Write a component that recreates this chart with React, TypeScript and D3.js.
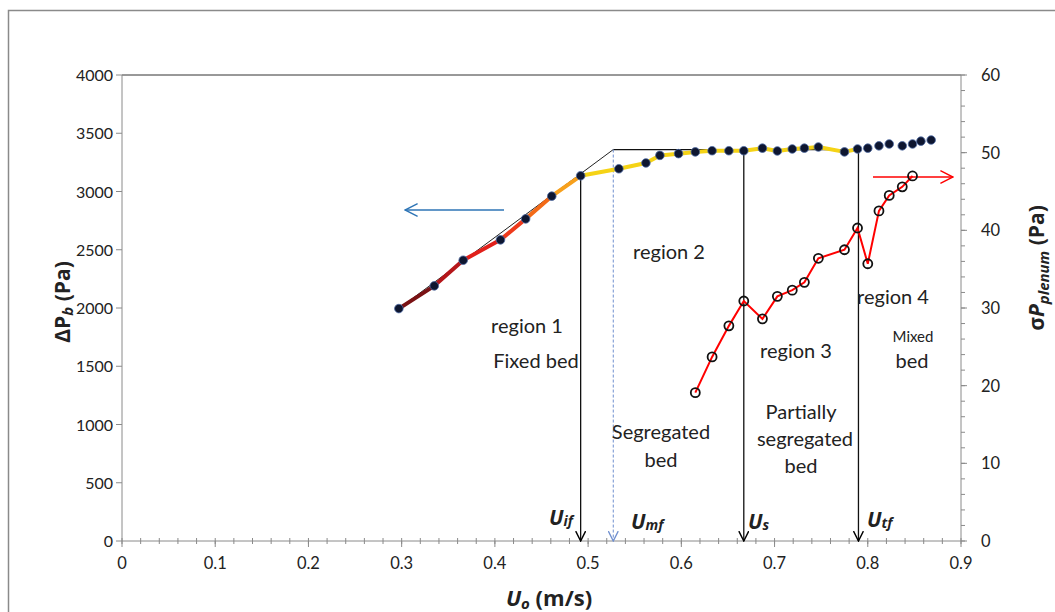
import React from "react";
import * as d3 from "d3";

const uo = [0.297, 0.335, 0.366, 0.406, 0.433, 0.461, 0.492, 0.533, 0.562, 0.577, 0.597, 0.615, 0.633, 0.651, 0.667, 0.687, 0.703, 0.719, 0.732, 0.747, 0.775, 0.789, 0.8, 0.812, 0.823, 0.837, 0.848, 0.857, 0.868];
const dpb = [1995, 2190, 2410, 2585, 2765, 2960, 3135, 3195, 3245, 3310, 3325, 3340, 3350, 3350, 3350, 3372, 3348, 3365, 3372, 3382, 3340, 3365, 3372, 3392, 3408, 3392, 3408, 3432, 3442];
const sigmaU = [0.615, 0.633, 0.651, 0.667, 0.687, 0.703, 0.719, 0.732, 0.747, 0.775, 0.789, 0.8, 0.812, 0.823, 0.837, 0.848];
const sigmaP = [19.1, 23.7, 27.7, 30.9, 28.6, 31.5, 32.3, 33.3, 36.4, 37.5, 40.3, 35.7, 42.5, 44.5, 45.6, 47.0];
const segColors = ["#7a1214", "#b5161a", "#e1201b", "#ee3a1c", "#f36a17", "#f7a01c"];
const xTicks = [0, 0.1, 0.2, 0.3, 0.4, 0.5, 0.6, 0.7, 0.8, 0.9];
const yLTicks = [0, 500, 1000, 1500, 2000, 2500, 3000, 3500, 4000];
const yRTicks = [0, 10, 20, 30, 40, 50, 60];
const Uif = 0.492, Umf = 0.527, Us = 0.667, Utf = 0.79, plateau = 3360;

const FONT = "Lato, 'Open Sans', sans-serif";
const TFONT = "'Open Sans', 'DejaVu Sans', sans-serif";

export default function App() {
  const x = d3.scaleLinear().domain([0, 0.9]).range([122, 961]);
  const yL = d3.scaleLinear().domain([0, 4000]).range([541, 75]);
  const yR = d3.scaleLinear().domain([0, 60]).range([541, 75]);
  const pts = uo.map((u, i) => [x(u), yL(dpb[i])] as [number, number]);
  const lastYellow = uo.findIndex((u) => Math.abs(u - Utf) < 0.002);
  const yellowPath = d3.line()(pts.slice(6, lastYellow + 1));
  const redPts = sigmaU.map((u, i) => [x(u), yR(sigmaP[i])] as [number, number]);
  const redPath = d3.line()(redPts);
  const minorX = d3.range(0, 0.9001, 0.02);
  const minorR = d3.range(0, 60.001, 2);
  return (
    <svg width={1055} height={612} style={{ position: "absolute", left: 0, top: 0, background: "#fff" }} fontFamily={FONT}>
      <defs>
        <marker id="ab" viewBox="0 0 10 10" refX={9.5} refY={5} markerWidth={11} markerHeight={11} markerUnits="userSpaceOnUse" orient="auto">
          <path d="M0.5,0.5 L9.5,5 L0.5,9.5" fill="none" stroke="#000" strokeWidth={1.3} />
        </marker>
        <marker id="abl" viewBox="0 0 10 10" refX={9.5} refY={5} markerWidth={14} markerHeight={14} markerUnits="userSpaceOnUse" orient="auto">
          <path d="M0.5,0.5 L9.5,5 L0.5,9.5" fill="none" stroke="#2e75b6" strokeWidth={1} />
        </marker>
        <marker id="ar" viewBox="0 0 10 10" refX={9.5} refY={5} markerWidth={14} markerHeight={14} markerUnits="userSpaceOnUse" orient="auto">
          <path d="M0.5,0.5 L9.5,5 L0.5,9.5" fill="none" stroke="#ff0000" strokeWidth={1} />
        </marker>
        <marker id="abd" viewBox="0 0 10 10" refX={9.5} refY={5} markerWidth={11} markerHeight={11} markerUnits="userSpaceOnUse" orient="auto">
          <path d="M0.5,0.5 L9.5,5 L0.5,9.5" fill="none" stroke="#6f8fcf" strokeWidth={1.2} />
        </marker>
      </defs>
      <rect x={8.5} y={10.5} width={1060} height={620} fill="none" stroke="#8a8a8a" strokeWidth={1.5} />

      {/* axes */}
      <line x1={x(0)} x2={x(0.9)} y1={yL(4000)} y2={yL(4000)} stroke="#333" strokeWidth={1} />
      <line x1={x(0)} x2={x(0)} y1={yL(0)} y2={yL(4000)} stroke="#8a8a8a" strokeWidth={1} />
      <line x1={x(0.9)} x2={x(0.9)} y1={yL(0)} y2={yL(4000)} stroke="#8a8a8a" strokeWidth={1} />
      <line x1={x(0)} x2={x(0.9)} y1={yL(0)} y2={yL(0)} stroke="#8a8a8a" strokeWidth={1} />
      {minorX.map((t, i) => (
        <line key={"mx" + i} x1={x(t)} x2={x(t)} y1={yL(0) - 3} y2={yL(0) + 3} stroke="#8a8a8a" strokeWidth={1} />
      ))}
      {xTicks.map((t) => (
        <g key={"xt" + t}>
          <line x1={x(t)} x2={x(t)} y1={yL(0)} y2={yL(0) + 6} stroke="#8a8a8a" strokeWidth={1} />
          <text x={x(t)} y={yL(0) + 28} textAnchor="middle" fontSize={16.5} fill="#222">{t === 0 ? "0" : d3.format(".1f")(t)}</text>
        </g>
      ))}
      {yLTicks.map((t) => (
        <g key={"yl" + t}>
          <line x1={x(0) - 6} x2={x(0)} y1={yL(t)} y2={yL(t)} stroke="#8a8a8a" strokeWidth={1} />
          <text x={x(0) - 9} y={yL(t) + 6} textAnchor="end" fontSize={16} fill="#222">{t}</text>
        </g>
      ))}
      {minorR.map((t, i) => (
        <line key={"mr" + i} x1={x(0.9)} x2={x(0.9) + 4} y1={yR(t)} y2={yR(t)} stroke="#8a8a8a" strokeWidth={1} />
      ))}
      {yRTicks.map((t) => (
        <g key={"yr" + t}>
          <line x1={x(0.9)} x2={x(0.9) + 6} y1={yR(t)} y2={yR(t)} stroke="#8a8a8a" strokeWidth={1} />
          <text x={x(0.9) + 20} y={yR(t) + 6} textAnchor="start" fontSize={16.5} fill="#222">{t}</text>
        </g>
      ))}

      {/* axis titles */}
      <text transform={`translate(70,302) rotate(-90)`} textAnchor="middle" fontSize={21} fontWeight="bold" fill="#222" fontFamily={TFONT}>
        <tspan>ΔP</tspan><tspan fontSize={15} fontStyle="italic" dy={3}>b</tspan><tspan dy={-3}> (Pa)</tspan>
      </text>
      <text transform={`translate(1044,268) rotate(-90)`} textAnchor="middle" fontSize={21} fontWeight="bold" fill="#222" fontFamily={TFONT}>
        <tspan>σ</tspan><tspan fontStyle="italic">P</tspan><tspan fontSize={15} fontStyle="italic" dy={5}>plenum</tspan><tspan dy={-5}> (Pa)</tspan>
      </text>
      <text x={549} y={606} textAnchor="middle" fontSize={22} fontWeight="bold" fill="#222" fontFamily={TFONT}>
        <tspan fontStyle="italic">U</tspan><tspan fontSize={15} fontStyle="italic" dy={3}>o</tspan><tspan dy={-3}> (m/s)</tspan>
      </text>

      {/* fit lines and arrows */}
      <line x1={pts[0][0]} y1={pts[0][1]} x2={x(Umf)} y2={yL(plateau)} stroke="#222" strokeWidth={1} />
      <line x1={x(Umf)} y1={yL(plateau)} x2={x(Utf)} y2={yL(plateau)} stroke="#111" strokeWidth={1.3} />
      <line x1={x(Uif)} y1={yL(3135)} x2={x(Uif)} y2={yL(0)} stroke="#111" strokeWidth={1.3} markerEnd="url(#ab)" />
      <line x1={x(Us)} y1={yL(plateau)} x2={x(Us)} y2={yL(0)} stroke="#111" strokeWidth={1.3} markerEnd="url(#ab)" />
      <line x1={x(Utf)} y1={yL(plateau)} x2={x(Utf)} y2={yL(0)} stroke="#111" strokeWidth={1.3} markerEnd="url(#ab)" />
      <line x1={x(Umf)} y1={yL(plateau)} x2={x(Umf)} y2={yL(0)} stroke="#6f8fcf" strokeWidth={1} strokeDasharray="3,2" markerEnd="url(#abd)" />
      <line x1={504} y1={210} x2={405} y2={210} stroke="#2e75b6" strokeWidth={1.5} markerEnd="url(#abl)" />
      <line x1={873} y1={177} x2={953} y2={177} stroke="#ff0000" strokeWidth={1.5} markerEnd="url(#ar)" />

      {/* ΔPb series */}
      {segColors.map((c, i) => (
        <line key={"sg" + i} x1={pts[i][0]} y1={pts[i][1]} x2={pts[i + 1][0]} y2={pts[i + 1][1]} stroke={c} strokeWidth={4} strokeLinecap="round" />
      ))}
      <path d={yellowPath || ""} fill="none" stroke="#f5d316" strokeWidth={4} strokeLinejoin="round" strokeLinecap="round" />
      {pts.map((p, i) => (
        <circle key={"p" + i} cx={p[0]} cy={p[1]} r={4.3} fill="#0e1630" stroke="#4d6aa3" strokeWidth={0.8} />
      ))}

      {/* σP series */}
      <path d={redPath || ""} fill="none" stroke="#ff0000" strokeWidth={2} />
      {redPts.map((p, i) => (
        <circle key={"r" + i} cx={p[0]} cy={p[1]} r={4.5} fill="none" stroke="#111" strokeWidth={1.8} />
      ))}

      {/* region labels */}
      <g fontSize={20} fill="#222" textAnchor="middle">
        <text x={527} y={333}>region 1</text>
        <text x={536} y={368}>Fixed bed</text>
        <text x={669} y={259}>region 2</text>
        <text x={661} y={439}>Segregated</text>
        <text x={661} y={467}>bed</text>
        <text x={796} y={358}>region 3</text>
        <text x={801} y={419}>Partially</text>
        <text x={805} y={446}>segregated</text>
        <text x={801} y={473}>bed</text>
        <text x={893} y={304}>region 4</text>
        <text x={913} y={342} fontSize={15}>Mixed</text>
        <text x={912} y={368}>bed</text>
      </g>

      {/* velocity labels */}
      <g fontWeight="bold" fontStyle="italic" fill="#222" fontSize={21} fontFamily={TFONT}>
        <text x={549} y={525}>U<tspan fontSize={14} dy={1}>if</tspan></text>
        <text x={631} y={529}>U<tspan fontSize={14} dy={1}>mf</tspan></text>
        <text x={748} y={529}>U<tspan fontSize={14} dy={1}>s</tspan></text>
        <text x={867} y={527}>U<tspan fontSize={14} dy={1}>tf</tspan></text>
      </g>
    </svg>
  );
}
